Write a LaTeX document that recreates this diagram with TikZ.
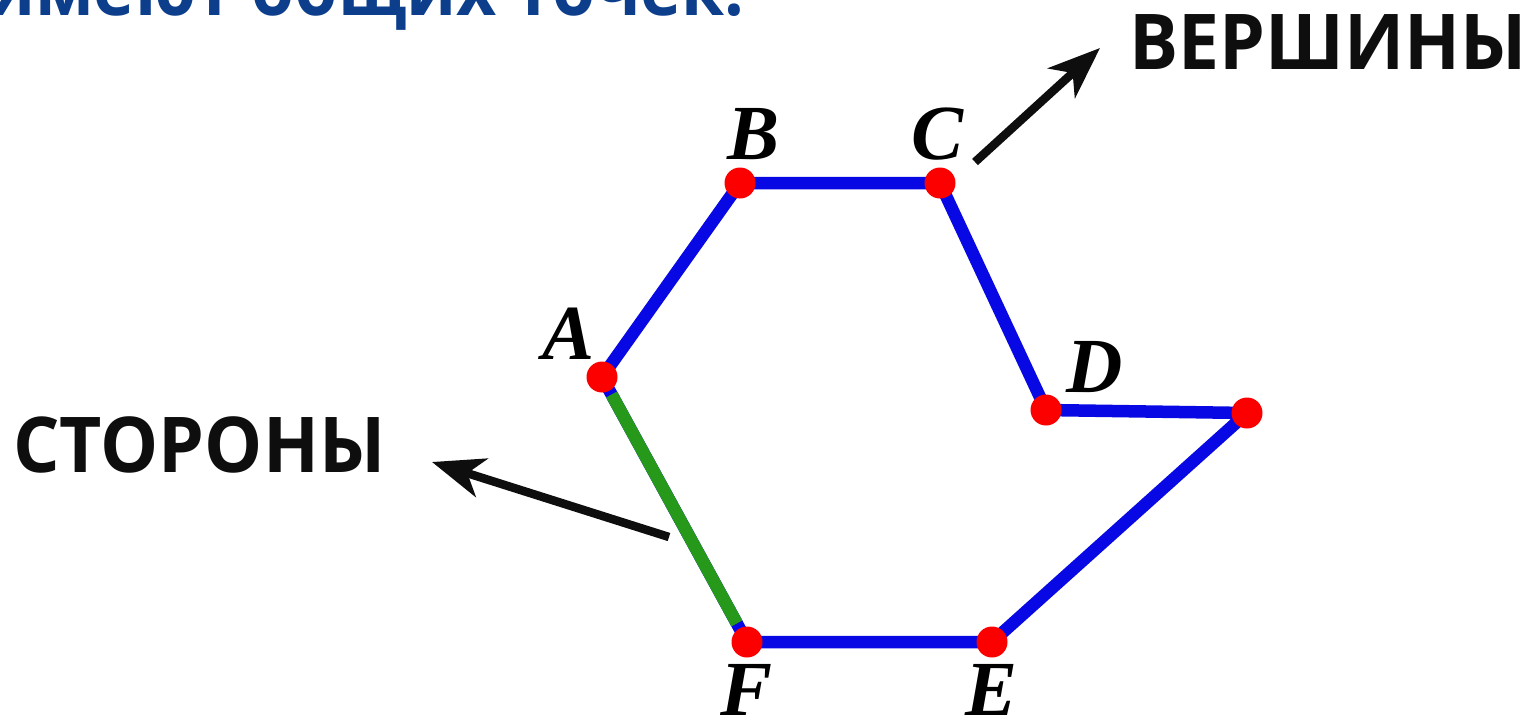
\documentclass[tikz,border=0pt]{standalone}
\usepackage{fontspec}
\setmainfont{Liberation Serif}
\newfontfamily\rufont[FakeStretch=0.95]{Open Sans}
\newfontfamily\titlefont[FakeStretch=0.915]{Open Sans}
\usetikzlibrary{arrows.meta,calc}
\definecolor{polyblue}{RGB}{8,8,228}
\definecolor{sidegreen}{RGB}{38,152,26}
\definecolor{titleblue}{RGB}{12,62,140}
\definecolor{dotred}{RGB}{252,0,0}
\definecolor{inkblack}{RGB}{14,14,14}
\tikzset{
  side/.style={draw=polyblue,line width=12.5pt,line join=round,line cap=round},
  greenside/.style={draw=sidegreen,line width=12.5pt},
  dot/.style={circle,fill=dotred,inner sep=0pt,minimum size=31pt},
  vlabel/.style={inner sep=0pt,font=\fontsize{78}{80}\selectfont\bfseries\itshape,text=black},
  word/.style={inner sep=0pt,font=\rufont\fontsize{77}{80}\selectfont\bfseries,text=inkblack},
  pointer/.style={draw=inkblack,line width=8.5pt,-{Stealth[length=52pt,width=40pt,inset=15pt]}}
}
\begin{document}
\begin{tikzpicture}[x=1pt,y=-1pt]
\clip (0,0) rectangle (1525,724);
\fill[white] (0,0) rectangle (1525,724);
% title (cut off at the top)
\node[inner sep=0pt,anchor=base east,font=\titlefont\fontsize{76}{80}\selectfont\bfseries,text=titleblue] (title) at (745,15) {имеют общих точек.};
% vertices
\coordinate (A) at (602,377);
\coordinate (B) at (740,183);
\coordinate (C) at (940,183);
\coordinate (D) at (1046,410);
\coordinate (G) at (1247,413);
\coordinate (E) at (992,642);
\coordinate (F) at (747,642);
% polygon
\draw[side] (A) -- (B) -- (C) -- (D) -- (G) -- (E) -- (F) -- cycle;
\draw[greenside] ($(A)!0.066!(F)$) -- ($(A)!0.93!(F)$);
% dots
\foreach \p in {A,B,C,D,G,E,F} \node[dot] (d\p) at (\p) {};
% labels
\node[vlabel] (lA) at (569,334) {A};
\node[vlabel] (lB) at (754,134) {B};
\node[vlabel] (lC) at (937,134) {C};
\node[vlabel] (lD) at (1095,367) {D};
\node[vlabel] (lF) at (747,690) {F};
\node[vlabel] (lE) at (991,690) {E};
% words
\node[word,anchor=base west] (vert) at (1129,69) {ВЕРШИНЫ};
\node[word,anchor=base west] (sides) at (13,472) {СТОРОНЫ};
% arrows
\coordinate (vt) at (975,162);
\coordinate (vh) at (1100,48);
\draw[pointer] (vt) -- (vh);
\coordinate (st) at (669,537);
\coordinate (sh) at (432,462);
\draw[pointer] (st) -- (sh);
\end{tikzpicture}
\end{document}
